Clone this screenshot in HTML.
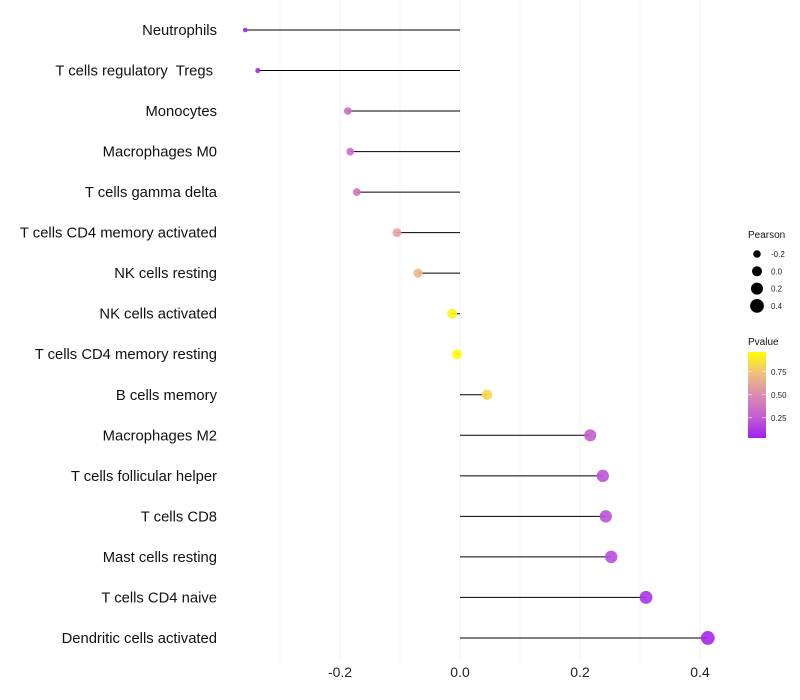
<!DOCTYPE html>
<html><head><meta charset="utf-8"><style>
body{margin:0;background:#fff;font-family:"Liberation Sans",sans-serif}
svg{display:block}
</style></head><body>
<svg id="chart" width="800" height="700"></svg>
<script>
const categories=["Neutrophils","T cells regulatory  Tregs","Monocytes","Macrophages M0","T cells gamma delta","T cells CD4 memory activated","NK cells resting","NK cells activated","T cells CD4 memory resting","B cells memory","Macrophages M2","T cells follicular helper","T cells CD8","Mast cells resting","T cells CD4 naive","Dendritic cells activated"];
const pearson=[-0.358,-0.337,-0.187,-0.183,-0.172,-0.105,-0.07,-0.013,-0.005,0.045,0.217,0.238,0.243,0.252,0.31,0.413];
const pvalues=[0.01,0.02,0.33,0.32,0.36,0.62,0.72,0.96,0.98,0.85,0.25,0.2,0.19,0.17,0.08,0.03];
const xTicks=[-0.2,0,0.2,0.4];
const xTickLabels=["-0.2","0.0","0.2","0.4"];
const gridVals=[-0.3,-0.2,-0.1,0,0.1,0.2,0.3,0.4];
const sizeLegendVals=[-0.2,0,0.2,0.4];
const sizeLegendLabels=["-0.2","0.0","0.2","0.4"];
const colorTicks=[0.25,0.5,0.75];

const NS="http://www.w3.org/2000/svg";
const svg=document.getElementById('chart');
function el(t,a,p){const e=document.createElementNS(NS,t);for(const k in a)e.setAttribute(k,a[k]);(p||svg).appendChild(e);return e;}
const xScale=v=>460+600*v;
const yScale=i=>30+i*40.53;
const rScale=v=>Math.sqrt(Math.max(1.5,25+55*v));
const stops=[[0,[160,32,240]],[0.25,[196,96,208]],[0.5,[216,140,176]],[0.75,[240,190,128]],[1,[255,255,0]]];
function color(p){for(let i=1;i<stops.length;i++){if(p<=stops[i][0]){const a=stops[i-1],b=stops[i];const t=(p-a[0])/(b[0]-a[0]);return 'rgb('+a[1].map((c,j)=>Math.round(c+(b[1][j]-c)*t)).join(',')+')';}}return 'rgb(255,255,0)';}

gridVals.forEach(v=>{const g=el('line',{x1:xScale(v),x2:xScale(v),y1:0,y2:660,stroke:'#f3f3f3','stroke-width':1});

});
xTicks.forEach((v,i)=>{const t=el('text',{x:xScale(v),y:677,'text-anchor':'middle','font-size':14,fill:'#222'});t.textContent=xTickLabels[i];

});
categories.forEach((c,i)=>{
 const y=yScale(i);
 const t=el('text',{x:i===1?213:217,y:y+5,'text-anchor':'end','font-size':14.8,fill:'#111'});t.textContent=c;
 t.setAttribute('xml:space','preserve');
 t.style.whiteSpace='pre';
 
 
 const l=el('line',{x1:xScale(0),x2:xScale(pearson[i]),y1:y,y2:y,stroke:'#000','stroke-width':1});
 
 
 const p=el('circle',{cx:xScale(pearson[i]),cy:y,r:rScale(pearson[i]),fill:color(pvalues[i]),'fill-opacity':0.9});
 
 
});
const st=el('text',{x:748,y:238,'font-size':10,fill:'#111'});st.textContent='Pearson';


sizeLegendVals.forEach((v,i)=>{const y=254+i*17.3;
 const c=el('circle',{cx:757,cy:y,r:rScale(v),fill:'#000'});
 
 
 const t=el('text',{x:771,y:y+3,'font-size':8,fill:'#222'});t.textContent=sizeLegendLabels[i];
 
 });
const ct=el('text',{x:748,y:345,'font-size':10,fill:'#111'});ct.textContent='Pvalue';


const defs=el('defs',{});const lg=el('linearGradient',{id:'pg',x1:0,y1:1,x2:0,y2:0},defs);
stops.forEach(s=>el('stop',{offset:s[0],'stop-color':'rgb('+s[1].join(',')+')'},lg));
const cb=el('rect',{x:748,y:352,width:18,height:86,fill:'url(#pg)'});


const cbY=v=>440.8-92*v;
colorTicks.forEach(v=>{const y=cbY(v);
 el('line',{x1:748,x2:752,y1:y,y2:y,stroke:'#fff','stroke-width':0.6});
 el('line',{x1:762,x2:766,y1:y,y2:y,stroke:'#fff','stroke-width':0.6});
 const t=el('text',{x:771,y:y+3,'font-size':8,fill:'#222'});t.textContent=v.toFixed(2);
 
 });
</script>
</body></html>
